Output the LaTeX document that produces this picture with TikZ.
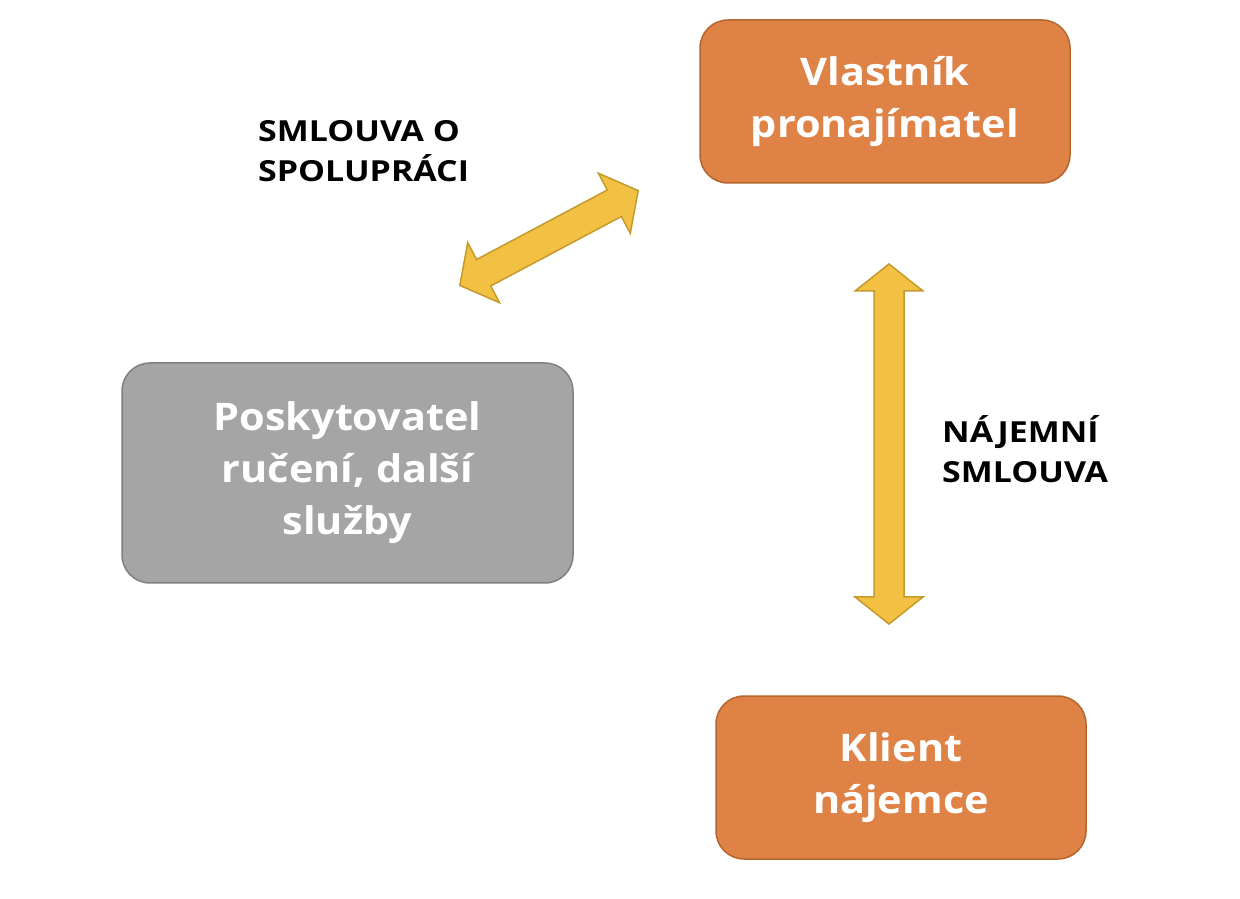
\documentclass[tikz,border=0pt]{standalone}
\usepackage{fontspec}
\setmainfont{Open Sans}
\newfontfamily\boxfont{Open Sans}[FakeStretch=1.09]
\newfontfamily\labelfont{Open Sans}[FakeStretch=1.17]
\usetikzlibrary{positioning}

\definecolor{orangefill}{HTML}{DF8246}
\definecolor{orangeedge}{HTML}{B4662E}
\definecolor{grayfill}{HTML}{A5A5A5}
\definecolor{grayedge}{HTML}{7F7F7F}
\definecolor{goldfill}{HTML}{F2C143}
\definecolor{goldedge}{HTML}{C49A2C}

\begin{document}
\begin{tikzpicture}[
    x=1pt, y=1pt,
    box/.style={draw, rectangle, rounded corners=28pt, line width=1.5pt, align=center, text=white, font=\boxfont\fontsize{38}{52}\selectfont\bfseries},
    party/.style={box, fill=orangefill, draw=orangeedge, minimum width=370pt, minimum height=163pt},
    service/.style={box, fill=grayfill, draw=grayedge, minimum width=451pt, minimum height=220pt},
    contract/.style={align=left, anchor=west, inner sep=0pt, font=\labelfont\fontsize{29}{40}\selectfont\bfseries},
    pics/bothways/.style={code={
        \path[fill=goldfill, draw=goldedge, line width=1.5pt, line join=miter]
            ({-#1},0) -- ({-#1+27},34) -- ({-#1+27},15) -- ({#1-27},15) -- ({#1-27},34)
            -- ({#1},0) -- ({#1-27},-34) -- ({#1-27},-15) -- ({-#1+27},-15) -- ({-#1+27},-34) -- cycle;
    }}
]
\useasboundingbox (0,0) rectangle (1240,898);

% Nodes
\node[party] (owner) at (885,796.5) {Vlastník\\pronajímatel};
\node[service] (provider) at (347.5,425) {Poskytovatel\\ručení, další\\služby};
\node[party] (client) at (901,120.5) {Klient\\nájemce};

% Contracts
\pic[rotate=28] (coop) at (549,660) {bothways=101};
\pic[rotate=90] (lease) at (889,454) {bothways=180};
\node[contract] (cooplabel) at (258,747) {SMLOUVA O\\SPOLUPRÁCI};
\node[contract] (leaselabel) at (942,449) {NÁJEMNÍ\\SMLOUVA};

\end{tikzpicture}
\end{document}
